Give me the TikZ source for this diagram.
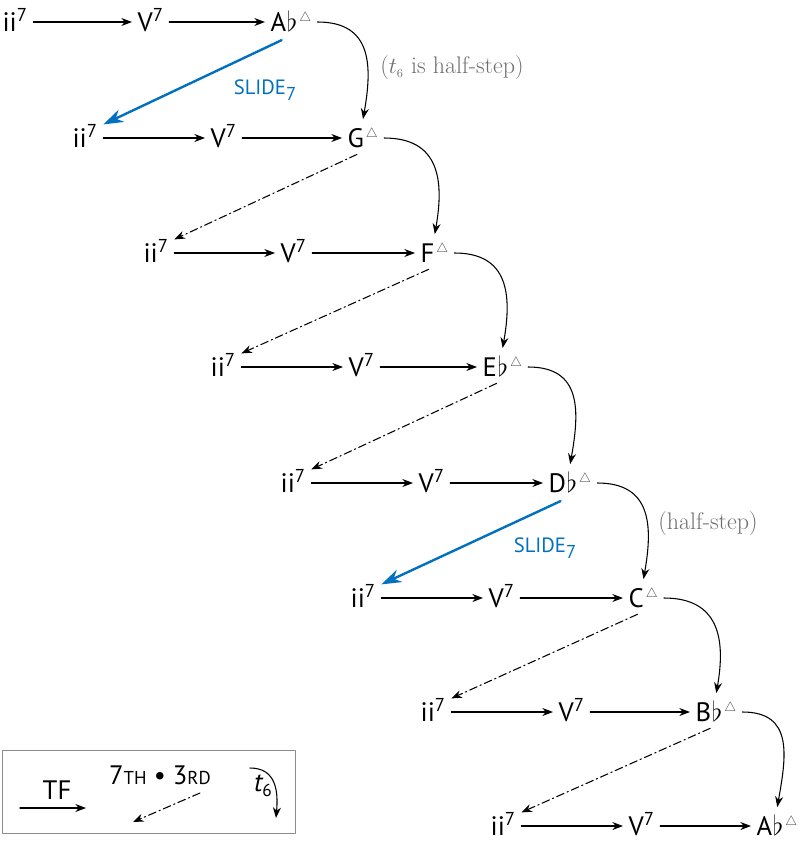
\documentclass[tikz,border=0pt]{standalone}
\usepackage{fontspec}
\setsansfont{PT Sans}
\usetikzlibrary{arrows.meta}
\definecolor{slideblue}{rgb}{0,0.44,0.75}
\definecolor{notegray}{rgb}{0.43,0.43,0.43}
\definecolor{boxgray}{rgb}{0.55,0.55,0.55}
\definecolor{trigray}{rgb}{0.3,0.3,0.3}
\newcommand{\sev}{\textsuperscript{7}}
\newcommand{\tri}{\kern1.5pt{\color{trigray}$^{\scriptscriptstyle\triangle}$}}
\newcommand{\fl}{\kern0.5pt$\flat$}
\tikzset{
  chord/.style={anchor=west,font=\sffamily\fontsize{20}{22}\selectfont,inner xsep=4pt,inner ysep=3pt,text height=14pt,text depth=0pt},
  tf/.style={->,line width=0.8pt},
  tseven/.style={->,line width=0.8pt,dash pattern=on 6pt off 2.5pt on 1pt off 2.5pt,shorten <=5pt},
  tsix/.style={->,line width=0.8pt},
  slide/.style={-{Stealth[length=15pt,width=10pt]},line width=1.8pt,color=slideblue,shorten <=8pt},
  slidelabel/.style={font=\sffamily\fontsize{15.5}{17}\selectfont,color=slideblue},
  note/.style={font=\fontsize{18}{20}\selectfont,color=notegray}
}
\begin{document}
\begin{tikzpicture}[line cap=round,line join=round,>={Stealth[length=8pt,width=6pt]},x=0.75pt,y=-0.75pt]
		\useasboundingbox (0,0) rectangle (800,866);
		% rows of ii - V - I
		\node[chord] (ii0) at (-3,22) {ii\sev};
		\node[chord] (v0) at (132,22) {V\sev};
		\node[chord] (ab0) at (265,22) {A\fl\tri};
		\node[chord] (ii1) at (67,138) {ii\sev};
		\node[chord] (v1) at (205,138) {V\sev};
		\node[chord] (g1) at (342,138) {G\tri};
		\node[chord] (ii2) at (138,253) {ii\sev};
		\node[chord] (v2) at (275,253) {V\sev};
		\node[chord] (f2) at (415,253) {F\tri};
		\node[chord] (ii3) at (205,367) {ii\sev};
		\node[chord] (v3) at (343,367) {V\sev};
		\node[chord] (eb3) at (477,367) {E\fl\tri};
		\node[chord] (ii4) at (275,483) {ii\sev};
		\node[chord] (v4) at (413,483) {V\sev};
		\node[chord] (db4) at (543,483) {D\fl\tri};
		\node[chord] (ii5) at (345,598) {ii\sev};
		\node[chord] (v5) at (483,598) {V\sev};
		\node[chord] (c5) at (623,598) {C\tri};
		\node[chord] (ii6) at (415,712) {ii\sev};
		\node[chord] (v6) at (553,712) {V\sev};
		\node[chord] (bb6) at (690,712) {B\fl\tri};
		\node[chord] (ii7) at (485,826) {ii\sev};
		\node[chord] (v7) at (623,826) {V\sev};
		\node[chord] (ab7) at (751,826) {A\fl\tri};
		% TF arrows
		\draw[tf] (ii0) -- (v0);
		\draw[tf] (v0) -- (ab0);
		\draw[tf] (ii1) -- (v1);
		\draw[tf] (v1) -- (g1);
		\draw[tf] (ii2) -- (v2);
		\draw[tf] (v2) -- (f2);
		\draw[tf] (ii3) -- (v3);
		\draw[tf] (v3) -- (eb3);
		\draw[tf] (ii4) -- (v4);
		\draw[tf] (v4) -- (db4);
		\draw[tf] (ii5) -- (v5);
		\draw[tf] (v5) -- (c5);
		\draw[tf] (ii6) -- (v6);
		\draw[tf] (v6) -- (bb6);
		\draw[tf] (ii7) -- (v7);
		\draw[tf] (v7) -- (ab7);
		% t6 moves
		\draw[tsix] (ab0.east) to[out=0,in=80,looseness=1.3] ([yshift=4pt]g1.north);
		\draw[tsix] (g1.east) to[out=0,in=80,looseness=1.3] ([yshift=4pt]f2.north);
		\draw[tsix] (f2.east) to[out=0,in=80,looseness=1.3] ([yshift=4pt]eb3.north);
		\draw[tsix] (eb3.east) to[out=0,in=80,looseness=1.3] ([yshift=4pt]db4.north);
		\draw[tsix] (db4.east) to[out=0,in=80,looseness=1.3] ([yshift=4pt]c5.north);
		\draw[tsix] (c5.east) to[out=0,in=80,looseness=1.3] ([yshift=4pt]bb6.north);
		\draw[tsix] (bb6.east) to[out=0,in=80,looseness=1.3] ([yshift=4pt]ab7.north);
		% 7th-3rd moves
		\draw[tseven] (g1.south) -- (ii2.north east);
		\draw[tseven] (f2.south) -- (ii3.north east);
		\draw[tseven] (eb3.south) -- (ii4.north east);
		\draw[tseven] (c5.south) -- (ii6.north east);
		\draw[tseven] (bb6.south) -- (ii7.north east);
		% slides
		\draw[slide] (ab0.south) -- (ii1.north east);
		\draw[slide] (db4.south) -- (ii5.north east);
		\node[slidelabel] (sl0) at (265,90) {SLIDE\raisebox{-5pt}{\fontsize{14}{14}\selectfont 7}};
		\node[slidelabel] (sl4) at (545,548) {SLIDE\raisebox{-5pt}{\fontsize{14}{14}\selectfont 7}};
		\node[note] (hs0) at (452,68) {($t_{\scriptscriptstyle 6}$ is half-step)};
		\node[note] (hs4) at (708,524) {(half-step)};
		% legend
		\draw[boxgray] (2,750) rectangle (295,833);
		\node[font=\sffamily\fontsize{20}{22}\selectfont] (tflab) at (57,790) {TF};
		\coordinate (tfa) at (20,808);
		\coordinate (tfb) at (86,808);
		\draw[tf] (tfa) -- (tfb);
		\node[font=\sffamily\fontsize{20}{22}\selectfont] (stlab) at (160,775) {7{\fontsize{14}{15}\selectfont TH} \textbullet{} 3{\fontsize{14}{15}\selectfont RD}};
		\coordinate (sta) at (200,793);
		\coordinate (stb) at (133,822);
		\draw[tseven,shorten <=0pt] (sta) -- (stb);
		\node[font=\sffamily\fontsize{20}{22}\selectfont] (tslab) at (263,786) {\itshape t\raisebox{-4pt}{\upshape\fontsize{13}{13}\selectfont 6}};
		\coordinate (tsa) at (250,768);
		\coordinate (tsb) at (276,818);
		\draw[tsix] (tsa) to[out=0,in=85,looseness=1.2] (tsb);
\end{tikzpicture}
\end{document}
